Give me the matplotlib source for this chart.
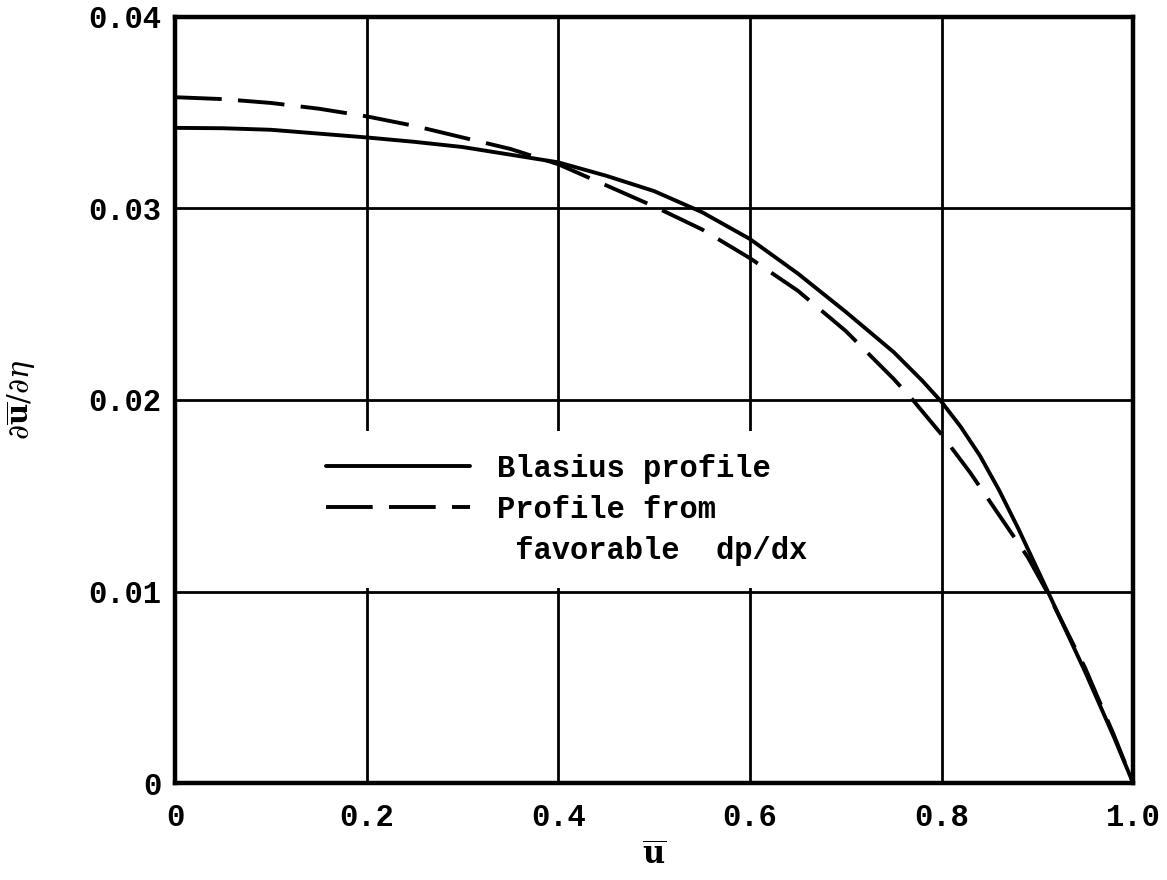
import matplotlib
matplotlib.use("Agg")
import matplotlib.pyplot as plt
from matplotlib.lines import Line2D

# Blasius profile: du/deta vs u
u_blasius = [0, 0.05, 0.1, 0.15, 0.2, 0.25, 0.3, 0.35, 0.4, 0.45, 0.5, 0.55,
             0.6, 0.65, 0.7, 0.75, 0.78, 0.8, 0.82, 0.84, 0.86, 0.88, 0.91, 0.95,
             0.98, 1.0]
dudeta_blasius = [0.0342, 0.03418, 0.0341, 0.0339, 0.0337, 0.03347, 0.0332, 0.0328,
                  0.0324, 0.0317, 0.0309, 0.0298, 0.0284, 0.0266, 0.0246, 0.0225,
                  0.0210, 0.0199, 0.0186, 0.0171, 0.0153, 0.0133, 0.0101, 0.0058,
                  0.0024, 0.0]

# Profile from favorable dp/dx
u_fav = [0, 0.05, 0.1, 0.15, 0.2, 0.25, 0.3, 0.35, 0.4, 0.45, 0.5, 0.55, 0.6,
         0.65, 0.7, 0.75, 0.77, 0.8, 0.83, 0.86, 0.89, 0.91, 0.95, 0.98, 1.0]
dudeta_fav = [0.0358, 0.0357, 0.0355, 0.0352, 0.0348, 0.0343, 0.0337, 0.0331,
              0.0323, 0.0312, 0.0301, 0.0289, 0.0274, 0.0257, 0.0236, 0.0211,
              0.0200, 0.0182, 0.0162, 0.0140, 0.0118, 0.0100, 0.0060, 0.0025, 0.0]

xticks = [0, 0.2, 0.4, 0.6, 0.8, 1.0]
xtick_labels = ["0", "0.2", "0.4", "0.6", "0.8", "1.0"]
yticks = [0, 0.01, 0.02, 0.03, 0.04]
ytick_labels = ["0", "0.01", "0.02", "0.03", "0.04"]

plt.rcParams["mathtext.fontset"] = "dejavuserif"
mono = {"family": "Liberation Mono", "weight": "bold", "size": 22}

fig = plt.figure(figsize=(11.67, 8.8), dpi=100)
ax = fig.add_axes([0.150, 0.110, 0.821, 0.871])

ax.plot(u_blasius, dudeta_blasius, color="black", lw=2.8,
        label="Blasius profile", clip_on=False, solid_capstyle="round")
ax.plot(u_fav, dudeta_fav, color="black", lw=2.8, dashes=(12, 4.2),
        label="Profile from", clip_on=False)

ax.set_xlim(0, 1.0)
ax.set_ylim(0, 0.04)
ax.set_xticks(xticks)
ax.set_xticklabels(xtick_labels, fontdict=mono)
ax.set_yticks(yticks)
ax.set_yticklabels(ytick_labels, fontdict=mono)
ax.tick_params(axis="x", length=0, pad=14)
ax.tick_params(axis="y", length=0, pad=10)

ax.grid(True, color="black", lw=2.0)
ax.set_axisbelow(True)
for s in ax.spines.values():
    s.set_linewidth(3.2)

ax.set_xlabel(r"$\mathbf{\overline{u}}$", fontsize=22, labelpad=6)
ax.set_ylabel(r"$\partial\overline{\mathbf{u}}/\partial\eta$", fontsize=21, labelpad=36)

handles, labels = ax.get_legend_handles_labels()
handles.append(Line2D([], [], color="none"))
labels.append(" favorable  dp/dx")
leg = ax.legend(handles, labels, loc="upper left", bbox_to_anchor=(0.134, 0.46),
                borderaxespad=0, borderpad=0.75, handlelength=4.7, handletextpad=0.9,
                labelspacing=0.36, frameon=True, fancybox=False,
                prop={"family": "Liberation Mono", "weight": "bold", "size": 22})
leg.get_frame().set_facecolor("white")
leg.get_frame().set_edgecolor("none")
leg.get_frame().set_alpha(1.0)

fig.savefig("out.png", dpi=100)
